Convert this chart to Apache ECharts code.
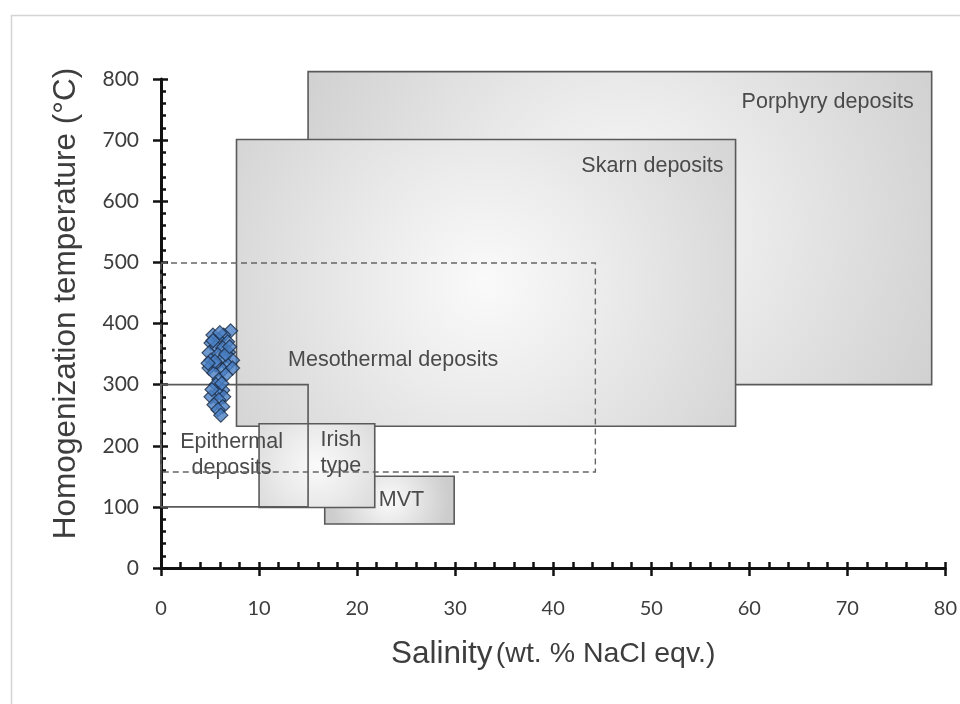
<!DOCTYPE html>
<html>
<head>
<meta charset="utf-8">
<script src="https://cdn.jsdelivr.net/npm/echarts@6/dist/echarts.min.js"></script>
<style>
html,body{margin:0;padding:0;background:#fff;}
#chart{width:960px;height:704px;}
</style>
</head>
<body>
<div id="chart"></div>
<script>
// ---- data ----
const boxNames = ['Porphyry deposits', 'Skarn deposits', 'MVT', 'Irish\ntype', 'Epithermal\ndeposits', 'Mesothermal deposits'];
const boxSalinityMin = [15, 7.7, 16.7, 10, 0, 0];
const boxSalinityMax = [78.6, 58.6, 29.9, 21.8, 15, 44.3];
const boxTempMin = [300, 232, 72, 99, 100, 157];
const boxTempMax = [812, 701, 150, 236, 300, 499];

const inclusionSalinity = [7.1, 6.4, 5.3, 5.9, 5.1, 6.8, 5.6, 6.3, 4.9, 6.9, 5.8, 6.4, 5.1, 7.3, 5.6, 6.8, 4.9, 6.3, 7.3, 5.4, 6.6, 5.9, 5.6, 6.3, 5.8, 5.1, 6.4, 5.9, 5.4, 6.3, 5.8, 6.1, 5.3, 6.0, 6.6, 5.5, 6.2, 5.2, 4.8, 7.0];
const inclusionTemp =     [388, 381, 381, 373, 368, 370, 362, 360, 352, 353, 349, 344, 340, 340, 332, 332, 327, 324, 327, 319, 316, 308, 300, 291, 286, 280, 280, 275, 267, 264, 259, 250, 372, 385, 350, 338, 302, 292, 335, 362];

const xTickValues = [0, 10, 20, 30, 40, 50, 60, 70, 80];
const yTickValues = [0, 100, 200, 300, 400, 500, 600, 700, 800];

// ---- label placement (pixel offsets, styling only) ----
const labelStyle = [
  { anchor: 'topRight', dx: -18, dy: 30, align: 'right' },
  { anchor: 'topRight', dx: -12, dy: 27, align: 'right' },
  { anchor: 'center', dx: 12, dy: 0, align: 'center' },
  { anchor: 'center', dx: 24, dy: -13, align: 'center' },
  { anchor: 'center', dx: -3, dy: 9, align: 'center' },
  { anchor: 'center', dx: 15, dy: -7, align: 'center' }
];
const boxKind = ['fill', 'fill', 'fill', 'fill', 'outline', 'dashed'];

const boxData = boxNames.map((n, i) => [boxSalinityMin[i], boxSalinityMax[i], boxTempMin[i], boxTempMax[i], i]);
const scatterData = inclusionSalinity.map((s, i) => [s, inclusionTemp[i]]);

const fillGrad = {
  type: 'radial', x: 0.5, y: 0.5, r: 1.2,
  colorStops: [{ offset: 0, color: '#fafafa' }, { offset: 0.35, color: '#ebebeb' }, { offset: 1, color: '#cdcdcd' }]
};

function renderBox(params, api) {
  const i = api.value(4);
  const p0 = api.coord([api.value(0), api.value(3)]);
  const p1 = api.coord([api.value(1), api.value(2)]);
  const x = p0[0], y = p0[1], w = p1[0] - p0[0], h = p1[1] - p0[1];
  const kind = boxKind[i];
  let style;
  if (kind === 'fill') style = { fill: fillGrad, stroke: '#5a5a5a', lineWidth: 1.6 };
  else if (kind === 'outline') style = { fill: 'none', stroke: '#5a5a5a', lineWidth: 1.6 };
  else style = { fill: 'none', stroke: '#666666', lineWidth: 1.4, lineDash: [6, 4] };
  const ls = labelStyle[i];
  let tx, ty;
  if (ls.anchor === 'topRight') { tx = x + w + ls.dx; ty = y + ls.dy; }
  else { tx = x + w / 2 + ls.dx; ty = y + h / 2 + ls.dy; }
  return {
    type: 'group',
    children: [
      { type: 'rect', shape: { x: x, y: y, width: w, height: h }, style: style },
      { type: 'text', x: tx, y: ty, style: {
          text: boxNames[i], fill: '#4a4a4a', font: '21.5px "Liberation Sans", Arial, sans-serif',
          align: ls.align, verticalAlign: 'middle', lineHeight: 26 } }
    ]
  };
}

const chart = echarts.init(document.getElementById('chart'), null, { renderer: 'canvas' });
const axisFont = 'Lato';
const option = {
  backgroundColor: '#ffffff',
  animation: false,
  graphic: [{
    type: 'rect', left: 9, top: 13, shape: { width: 1000, height: 800 },
    style: { fill: 'none', stroke: '#d4d4d4', lineWidth: 1.5 }, z: 0, silent: true
  }],
  grid: { left: 161, right: 12, top: 79, bottom: 136 },
  xAxis: [{
    type: 'value', min: 0, max: 80, interval: 10,
    position: 'bottom',
    name: '{a|Salinity} {b|(wt. % NaCl eqv.)}',
    nameLocation: 'middle', nameGap: 70,
    nameTextStyle: { rich: {
      a: { fontSize: 31.5, color: '#3d3d3d', fontFamily: 'Liberation Sans' },
      b: { fontSize: 28.5, color: '#3d3d3d', fontFamily: 'Liberation Sans' } } },
    axisLine: { show: true, onZero: false, lineStyle: { color: '#111', width: 3 } },
    axisTick: { show: true, inside: true, length: 6, lineStyle: { color: '#111', width: 2.5 } },
    minorTick: { show: true, splitNumber: 5, length: 6, lineStyle: { color: '#111', width: 2.5 } },
    axisLabel: { margin: 31, fontSize: 20, color: '#3d3d3d', fontFamily: axisFont,
      formatter: v => xTickValues.includes(v) ? String(v) : '' },
    splitLine: { show: false }
  }, {
    type: 'value', min: 0, max: 80, interval: 10, position: 'bottom', gridIndex: 0,
    axisLine: { show: false }, axisLabel: { show: false }, splitLine: { show: false },
    axisTick: { show: true, inside: false, length: 8, lineStyle: { color: '#111', width: 2.5 } }
  }],
  yAxis: [{
    type: 'value', min: 0, max: 800, interval: 100,
    position: 'left',
    name: 'Homogenization temperature (°C)',
    nameLocation: 'middle', nameGap: 79,
    nameTextStyle: { fontSize: 31.5, color: '#3d3d3d', fontFamily: 'Liberation Sans', padding: [0, 0, 0, 40] },
    axisLine: { show: true, onZero: false, lineStyle: { color: '#111', width: 3 } },
    axisTick: { show: true, inside: true, length: 7, lineStyle: { color: '#111', width: 2.5 } },
    minorTick: { show: true, splitNumber: 5, length: 5, lineStyle: { color: '#111', width: 2.5 } },
    axisLabel: { margin: 22, fontSize: 21, color: '#3d3d3d', fontFamily: axisFont,
      formatter: v => yTickValues.includes(v) ? String(v) : '' },
    splitLine: { show: false }
  }, {
    type: 'value', min: 0, max: 800, interval: 100, position: 'left', gridIndex: 0,
    axisLine: { show: false }, axisLabel: { show: false }, splitLine: { show: false },
    axisTick: { show: true, inside: false, length: 8, lineStyle: { color: '#111', width: 2.5 } }
  }],
  series: [{
    type: 'custom', renderItem: renderBox, data: boxData,
    xAxisIndex: 0, yAxisIndex: 0,
    encode: { x: [0, 1], y: [2, 3] }, z: 2, clip: false
  }, {
    type: 'scatter', data: scatterData, xAxisIndex: 0, yAxisIndex: 0,
    symbol: 'diamond', symbolSize: 14,
    itemStyle: { color: '#4a80c4', borderColor: '#1c2c44', borderWidth: 1.2 },
    z: 5
  }]
};
chart.setOption(option);
</script>
</body>
</html>
